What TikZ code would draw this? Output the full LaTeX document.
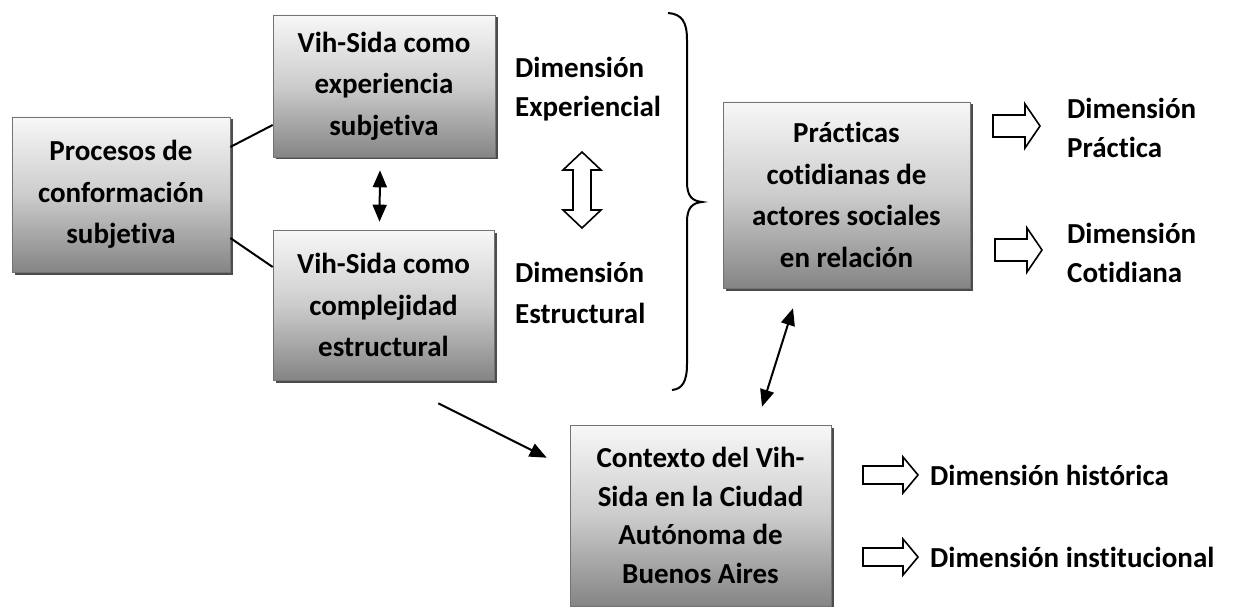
\documentclass[tikz,border=0pt]{standalone}
\usepackage{fontspec}
\setmainfont{Carlito}[Ligatures=NoCommon]
\usetikzlibrary{calc,shadows,arrows.meta}
\begin{document}
\begin{tikzpicture}[x=1pt,y=-1pt,
  boxst/.style={draw=black!55, line width=0.6pt, top color=black!3, bottom color=black!48, middle color=black!20,
    drop shadow={shadow xshift=2.5pt, shadow yshift=-2.5pt, fill=black!70, opacity=1},
    inner sep=0pt, align=center, font=\bfseries\fontsize{29}{41.5}\selectfont},
  lbl/.style={anchor=west, align=left, inner sep=0pt, font=\bfseries\fontsize{29}{39}\selectfont},
  conn/.style={line width=2pt},
  tri/.style={line width=2pt, -{Triangle[width=14pt,length=17pt]}},
  dtri/.style={line width=2pt, {Triangle[width=14pt,length=17pt]}-{Triangle[width=14pt,length=17pt]}},
  hollow/.style={draw, line width=1.6pt, fill=white, line join=miter}]
\useasboundingbox (0,0) rectangle (1235,607);

% boxes
\node[boxst, minimum width=218pt, minimum height=155pt] (proc) at (121,194.5) {Procesos de\\conformación\\subjetiva};
\node[boxst, minimum width=222pt, minimum height=142pt] (vih1) at (384,86) {Vih-Sida como\\experiencia\\subjetiva};
\node[boxst, minimum width=221pt, minimum height=150pt] (vih2) at (383.5,305) {Vih-Sida como\\complejidad\\estructural};
\node[boxst, minimum width=247pt, minimum height=186pt] (prac) at (846.5,195) {Prácticas\\cotidianas de\\actores sociales\\en relación};
\node[boxst, minimum width=261pt, minimum height=181pt, font=\bfseries\fontsize{29}{38.5}\selectfont] (ctx) at (700.5,515.5) {Contexto del Vih-\\Sida en la Ciudad\\Autónoma de\\Buenos Aires};

% labels
\node[lbl] (dexp) at (515,89) {Dimensión\\Experiencial};
\node[lbl, font=\bfseries\fontsize{29}{41}\selectfont] (dest) at (515,292.5) {Dimensión\\Estructural};
\node[lbl] (dpra) at (1067,128) {Dimensión\\Práctica};
\node[lbl] (dcot) at (1067,252.5) {Dimensión\\Cotidiana};
\node[lbl] (dhis) at (930,475) {Dimensión histórica};
\node[lbl] (dins) at (930,557) {Dimensión institucional};

% connectors
\draw[conn] ($(proc.east)+(0,-47.5)$) -- ($(vih1.west)+(0,39)$);
\draw[conn] ($(proc.east)+(0,43.5)$) -- ($(vih2.west)+(0,-38)$);
\draw[dtri] ($(vih1.south)+(-4,13)$) -- ($(vih2.north)+(-4,-8)$);
\draw[tri] ($(vih2.south east)+(-56,23)$) -- ($(ctx.north west)+(-23,33)$);
\draw[dtri] ($(prac.south)+(-53.5,20)$) -- ($(ctx.north)+(61.5,-18)$);

% brace
\draw[line width=2pt] (668,13) .. controls (682,14) and (687,22) .. (687,40) -- (687,182)
  .. controls (687,196) and (692,201) .. (702,202) .. controls (692,203) and (687,208) .. (687,222)
  -- (687,364) .. controls (687,382) and (682,389) .. (672,390);

% hollow vertical double arrow
\draw[hollow] (573,170) -- (563,170) -- (582,152) -- (601,170) -- (591,170) -- (591,210)
  -- (601,210) -- (582,228) -- (563,210) -- (573,210) -- cycle;

% hollow right arrows
\foreach \x/\y in {993/126, 995/250} {
  \draw[hollow] (\x,\y-11) -- (\x+32,\y-11) -- (\x+32,\y-22) -- (\x+47,\y) -- (\x+32,\y+22)
    -- (\x+32,\y+11) -- (\x,\y+11) -- cycle;
}
\foreach \x/\y in {863/475, 863/557} {
  \draw[hollow] (\x,\y-9) -- (\x+40,\y-9) -- (\x+40,\y-18) -- (\x+55,\y) -- (\x+40,\y+18)
    -- (\x+40,\y+9) -- (\x,\y+9) -- cycle;
}
\end{tikzpicture}
\end{document}
